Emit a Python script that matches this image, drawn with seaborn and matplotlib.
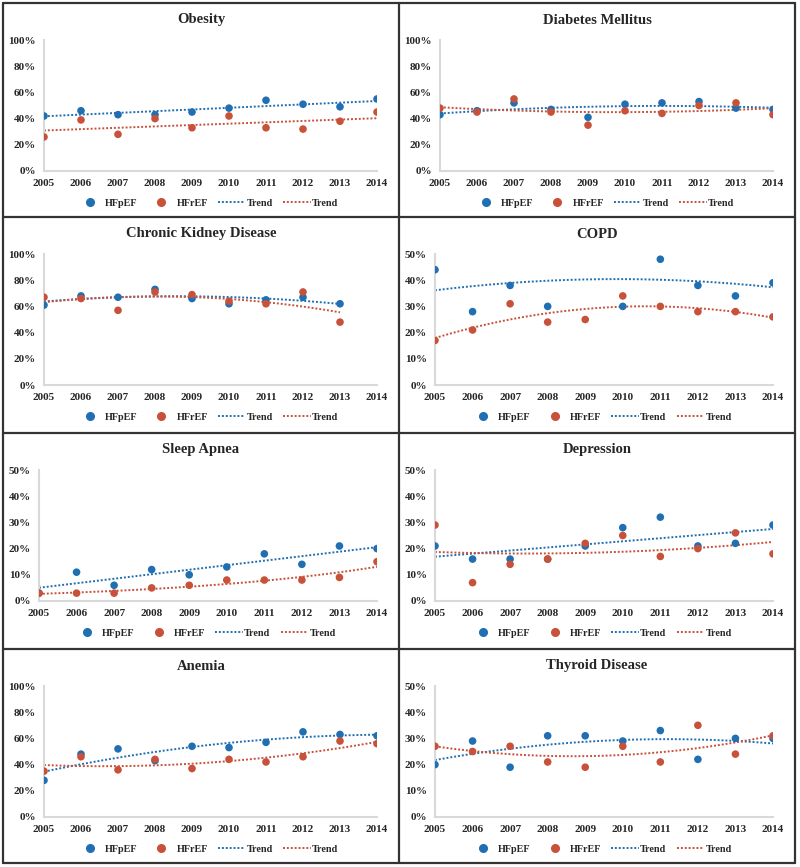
import numpy as np
import matplotlib
matplotlib.use("Agg")
import matplotlib.pyplot as plt
from matplotlib.lines import Line2D
import seaborn as sns

years = list(range(2005, 2015))

obesity_hfpef = [42, 46, 43, 43, 45, 48, 54, 51, 49, 55]
obesity_hfref = [26, 39, 28, 40, 33, 42, 33, 32, 38, 45]

diabetes_hfpef = [43, 46, 52, 47, 41, 51, 52, 53, 48, 47]
diabetes_hfref = [48, 45, 55, 45, 35, 46, 44, 50, 52, 43]

ckd_hfpef = [61, 68, 67, 73, 66, 62, 65, 67, 62]   # no 2014 value
ckd_hfref = [67, 66, 57, 71, 69, 64, 62, 71, 48]

# 2009 HFpEF point lies above the 50% axis limit (clipped in the chart)
copd_hfpef = [44, 28, 38, 30, 60, 30, 48, 38, 34, 39]
copd_hfref = [17, 21, 31, 24, 25, 34, 30, 28, 28, 26]

apnea_hfpef = [3, 11, 6, 12, 10, 13, 18, 14, 21, 20]
apnea_hfref = [3, 3, 3, 5, 6, 8, 8, 8, 9, 15]

depression_hfpef = [21, 16, 16, 16, 21, 28, 32, 21, 22, 29]
depression_hfref = [29, 7, 14, 16, 22, 25, 17, 20, 26, 18]

anemia_hfpef = [28, 48, 52, 43, 54, 53, 57, 65, 63, 62]
anemia_hfref = [35, 46, 36, 44, 37, 44, 42, 46, 58, 56]

thyroid_hfpef = [20, 29, 19, 31, 31, 29, 33, 22, 30, 30]
thyroid_hfref = [27, 25, 27, 21, 19, 27, 21, 35, 24, 31]

# title, hfpef, hfref, y max, trend type (hfpef, hfref)
panels = [
    ("Obesity", obesity_hfpef, obesity_hfref, 100, ("lin", "lin")),
    ("Diabetes Mellitus", diabetes_hfpef, diabetes_hfref, 100, ("poly", "poly")),
    ("Chronic Kidney Disease", ckd_hfpef, ckd_hfref, 100, ("poly", "poly")),
    ("COPD", copd_hfpef, copd_hfref, 50, ("poly", "poly")),
    ("Sleep Apnea", apnea_hfpef, apnea_hfref, 50, ("lin", "exp")),
    ("Depression", depression_hfpef, depression_hfref, 50, ("lin", "poly")),
    ("Anemia", anemia_hfpef, anemia_hfref, 100, ("poly", "poly")),
    ("Thyroid Disease", thyroid_hfpef, thyroid_hfref, 50, ("poly", "poly")),
]

BLUE = "#1F6FB2"
RED = "#C8513A"
SERIF = ["Liberation Serif", "DejaVu Serif"]

sns.set_style("white")
plt.rcParams["font.family"] = SERIF
plt.rcParams["font.weight"] = "bold"

W, H = 800, 867
fig = plt.figure(figsize=(W / 100, H / 100), dpi=100)

col_left = [3, 399]
row_top = [3, 217, 433, 649]


def trend(x, y, kind):
    x = np.asarray(x, dtype=float)
    y = np.asarray(y, dtype=float)
    xs = np.linspace(x.min(), x.max(), 200)
    if kind == "exp":
        c = np.polyfit(x - 2005, np.log(y), 1)
        ys = np.exp(np.polyval(c, xs - 2005))
    else:
        c = np.polyfit(x - 2005, y, 1 if kind == "lin" else 2)
        ys = np.polyval(c, xs - 2005)
    return xs, ys


for i, (title, pef, ref, ymax, kinds) in enumerate(panels):
    r, c = divmod(i, 2)
    x0 = col_left[c] + (41 if ymax == 100 else 36)
    x1 = col_left[c] + 374
    y0 = row_top[r] + 37
    y1 = row_top[r] + 168
    ax = fig.add_axes([x0 / W, 1 - y1 / H, (x1 - x0) / W, (y1 - y0) / H])

    pef_y = np.array(pef, dtype=float)
    ref_y = np.array(ref, dtype=float)
    xx = years[:len(pef_y)]

    for vals, col, kind in ((pef_y, BLUE, kinds[0]), (ref_y, RED, kinds[1])):
        xs, ys = trend(xx, vals, kind)
        sns.lineplot(x=xs, y=ys, ax=ax, color=col, lw=1.4,
                     linestyle=(0, (1, 1)), zorder=2)
    sns.scatterplot(x=xx, y=pef_y, ax=ax, color=BLUE, s=30,
                    edgecolor="none", zorder=3)
    sns.scatterplot(x=xx, y=ref_y, ax=ax, color=RED, s=30,
                    edgecolor="none", zorder=4)

    ax.set_xlim(2005, 2014)
    ax.set_ylim(0, ymax)
    step = 20 if ymax == 100 else 10
    yt = list(range(0, ymax + 1, step))
    ax.set_yticks(yt)
    ax.set_yticklabels([f"{v}%" for v in yt])
    ax.set_xticks(years)
    ax.set_xticklabels([str(y) for y in years])
    ax.tick_params(axis="both", length=0, labelsize=8)
    ax.tick_params(axis="y", pad=6)
    ax.tick_params(axis="x", pad=6)
    for lab in ax.get_xticklabels() + ax.get_yticklabels():
        lab.set_fontweight("bold")
    ax.set_xlabel("")
    ax.set_ylabel("")
    sns.despine(ax=ax)
    for s in ("left", "bottom"):
        ax.spines[s].set_color("#D9D9D9")
        ax.spines[s].set_linewidth(1.5)

    # title centered over the panel
    fig.text((col_left[c] + 198) / W, 1 - (row_top[r] + 17) / H, title,
             ha="center", va="center", fontsize=10.5, fontweight="bold")

    handles = [
        Line2D([], [], marker="o", ls="none", color=BLUE, markersize=5.5),
        Line2D([], [], marker="o", ls="none", color=RED, markersize=5.5),
        Line2D([], [], color=BLUE, lw=1.4, ls=(0, (1, 1))),
        Line2D([], [], color=RED, lw=1.4, ls=(0, (1, 1))),
    ]
    leg = ax.legend(handles, ["HFpEF", "HFrEF", "Trend", "Trend"], ncol=4,
                    loc="center", bbox_to_anchor=(0.49, -32 / (y1 - y0)),
                    frameon=False, fontsize=7.3, handlelength=2.7,
                    handletextpad=0.15, columnspacing=1.0)
    for t in leg.get_texts():
        t.set_fontweight("bold")

# panel borders
bc = "#333333"
left, right, top, bottom = 3, 795, 3, 863
for yy in [top, 217, 433, 649, bottom]:
    fig.add_artist(Line2D([left / W, right / W], [1 - yy / H, 1 - yy / H],
                          color=bc, lw=1.6))
for xx in [left, 399, right]:
    fig.add_artist(Line2D([xx / W, xx / W], [1 - top / H, 1 - bottom / H],
                          color=bc, lw=1.6))

fig.savefig("out.png", dpi=100)
